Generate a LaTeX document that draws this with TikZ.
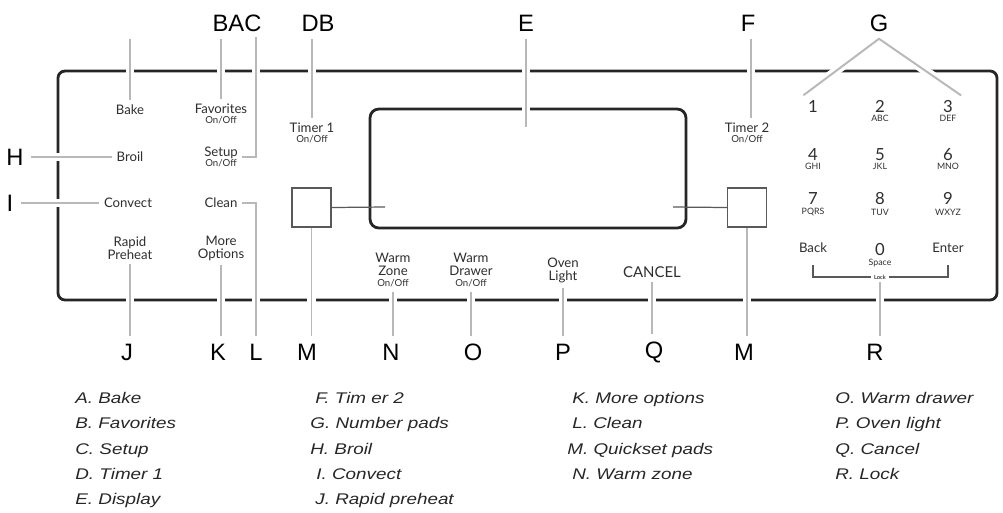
\documentclass[tikz,border=0pt]{standalone}
\usepackage{fontspec}
\setmainfont{Liberation Sans}
\newfontfamily\panelfont{Lato}
\newfontfamily\legendfont[FakeStretch=1.22]{Liberation Sans}
\newcommand{\subtxt}[1]{{\fontsize{5}{5}\selectfont #1}}
\newcommand{\onoff}{{\fontsize{5.5}{5.5}\selectfont On/Off}}
\begin{document}
\begin{tikzpicture}[x=0.02cm,y=-0.02cm,
  panel/.style={draw=black!85,line width=1.6pt,rounded corners=4pt},
  display/.style={draw=black!85,line width=1.6pt,rounded corners=5pt,minimum width=6.32cm,minimum height=2.38cm},
  btn/.style={font=\panelfont\fontsize{7.5}{7.5}\selectfont,text=black!82,align=center,inner sep=2.5pt},
  keypad/.style={font=\panelfont\fontsize{9.5}{8}\selectfont,text=black!82,align=center,inner sep=2.5pt},
  letter/.style={font=\fontsize{13.5}{14}\selectfont,inner sep=4pt},
  leader/.style={draw=black!28,line width=1.1pt,preaction={draw=white,line width=5pt}},
  quick/.style={draw=black!65,line width=0.7pt,minimum size=0.78cm,inner sep=0pt},
  link/.style={draw=black!65,line width=0.7pt},
  legend/.style={font=\legendfont\itshape\fontsize{8.8}{9}\selectfont,text=black!85,anchor=base west,inner sep=0pt}]
\useasboundingbox (0,0) rectangle (1003,512);

% control panel
\draw[panel] (58,71) rectangle (997,300);
\node[display] (disp) at (528,168.5) {};
\node[quick] (qsL) at (311.5,207.5) {};
\node[quick] (qsR) at (747,207.5) {};
\coordinate (dispL) at (385,207);
\coordinate (dispR) at (673,207);
\draw[link] (qsL.east) -- (dispL);
\draw[link] (dispR) -- (qsR.west);

% pads, left
\node[btn] (bake) at (130,110) {Bake};
\node[btn] (broil) at (130,157) {Broil};
\node[btn] (convect) at (128,203) {Convect};
\node[btn] (rapid) at (130,248) {Rapid\\Preheat};
\node[btn] (fav) at (221,114) {Favorites\\[-1.5pt]\onoff};
\node[btn] (setup) at (221,157) {Setup\\[-1.5pt]\onoff};
\node[btn] (clean) at (221,203) {Clean};
\node[btn] (more) at (221,248) {More\\Options};
\node[btn] (timerA) at (312,133) {Timer 1\\[-1.5pt]\onoff};
\node[btn] (timerB) at (747,133) {Timer 2\\[-1.5pt]\onoff};

% pads, bottom
\node[btn] (wzone) at (393,270) {Warm\\Zone\\[-1pt]\onoff};
\node[btn] (wdrawer) at (471,270) {Warm\\Drawer\\[-1pt]\onoff};
\node[btn] (light) at (563,270.5) {Oven\\Light};
\node[btn,font=\panelfont\fontsize{8.5}{8.5}\selectfont] (cancel) at (652,272) {CANCEL};

% number pads
\node[keypad] (key1) at (813,106) {1};
\node[keypad] (key2) at (880,111) {2\\[-2.5pt]\subtxt{ABC}};
\node[keypad] (key3) at (948,111) {3\\[-2.5pt]\subtxt{DEF}};
\node[keypad] (key4) at (813,159) {4\\[-2.5pt]\subtxt{GHI}};
\node[keypad] (key5) at (880,159) {5\\[-2.5pt]\subtxt{JKL}};
\node[keypad] (key6) at (948,159) {6\\[-2.5pt]\subtxt{MNO}};
\node[keypad] (key7) at (813,204) {7\\[-2pt]\subtxt{PQRS}};
\node[keypad] (key8) at (880,204) {8\\[-2pt]\subtxt{TUV}};
\node[keypad] (key9) at (948,204) {9\\[-2pt]\subtxt{WXYZ}};
\node[btn] (back) at (813,248) {Back};
\node[keypad] (key0) at (880,255) {0\\[-2pt]\subtxt{Space}};
\node[btn] (enter) at (948,248) {Enter};
\node[inner sep=1.5pt,font=\panelfont\fontsize{3.3}{3.3}\selectfont] (lock) at (880,277) {Lock};
\draw[link,shorten <=4pt] (back.south) |- (lock.west);
\draw[link] (lock.east) -| ([yshift=-4pt]enter.south);

% callout letters
\node[letter] (lBAC) at (237,23) {BAC};
\node[letter] (lDB) at (318,23) {DB};
\node[letter] (lE) at (526,23) {E};
\node[letter] (lF) at (748,23) {F};
\node[letter] (lG) at (879,23) {G};
\node[letter] (lH) at (15,157) {H};
\node[letter] (lI) at (10,203) {I};
\node[letter] (lJ) at (127,352) {J};
\node[letter] (lK) at (218,352) {K};
\node[letter] (lL) at (256,352) {L};
\node[letter] (lM) at (307,352) {M};
\node[letter] (lN) at (391,352) {N};
\node[letter] (lO) at (473,352) {O};
\node[letter] (lP) at (563,352) {P};
\node[letter] (lQ) at (654,352) {Q};
\node[letter] (lMM) at (744,352) {M};
\node[letter] (lR) at (875,352) {R};
\coordinate (cTop) at (256,37);
\coordinate (eEnd) at (526,127);

% leaders
\draw[leader] (bake.north |- lBAC.south) -- (bake.north);
\draw[leader] (fav.north |- lBAC.south) -- (fav.north);
\draw[leader] (setup.east) -| (cTop);
\draw[leader] (lDB.south -| timerA.north) -- (timerA.north);
\draw[leader] (lE.south) -- (eEnd);
\draw[leader] (lF.south -| 751,0) -- (timerB.north -| 751,0);
\draw[leader] (key1.north west) -- (lG.south) -- (key3.north east);
\draw[leader] (lH.east) -- (broil.west);
\draw[leader] (lI.east) -- (convect.west);
\draw[leader] (rapid.south) -- (rapid.south |- lJ.north);
\draw[leader] (more.south) -- (more.south |- lK.north);
\draw[leader] (clean.east) -| (lL.north);
\draw[leader] (qsL.south) -- (qsL.south |- lM.north);
\draw[leader] (wzone.south) -- (wzone.south |- lN.north);
\draw[leader] (wdrawer.south) -- (wdrawer.south |- lO.north);
\draw[leader] (light.south) -- (light.south |- lP.north);
\draw[leader] (cancel.south) -- (cancel.south |- lQ.north);
\draw[leader] (qsR.south) -- (qsR.south |- lMM.north);
\draw[leader] (lock.south) -- (lock.south |- lR.north);

% key to the letters
\node[legend] (tA) at (75,403.5) {A. Bake};
\node[legend] (tB) at (75,428.5) {B. Favorites};
\node[legend] (tC) at (75,454) {C. Setup};
\node[legend] (tD) at (75,479.5) {D. Timer 1};
\node[legend] (tE) at (75,504.5) {E. Display};
\node[legend] (tF) at (315,403.5) {F. Tim er 2};
\node[legend] (tG) at (310,428.5) {G. Number pads};
\node[legend] (tH) at (310,454) {H. Broil};
\node[legend] (tI) at (316,479.5) {I. Convect};
\node[legend] (tJ) at (315,504.5) {J. Rapid preheat};
\node[legend] (tK) at (572,403.5) {K. More options};
\node[legend] (tL) at (572,428.5) {L. Clean};
\node[legend] (tM) at (567,454) {M. Quickset pads};
\node[legend] (tN) at (572,479.5) {N. Warm zone};
\node[legend] (tO) at (835,403.5) {O. Warm drawer};
\node[legend] (tP) at (835,428.5) {P. Oven light};
\node[legend] (tQ) at (835,454) {Q. Cancel};
\node[legend] (tR) at (835,479.5) {R. Lock};
\end{tikzpicture}
\end{document}
